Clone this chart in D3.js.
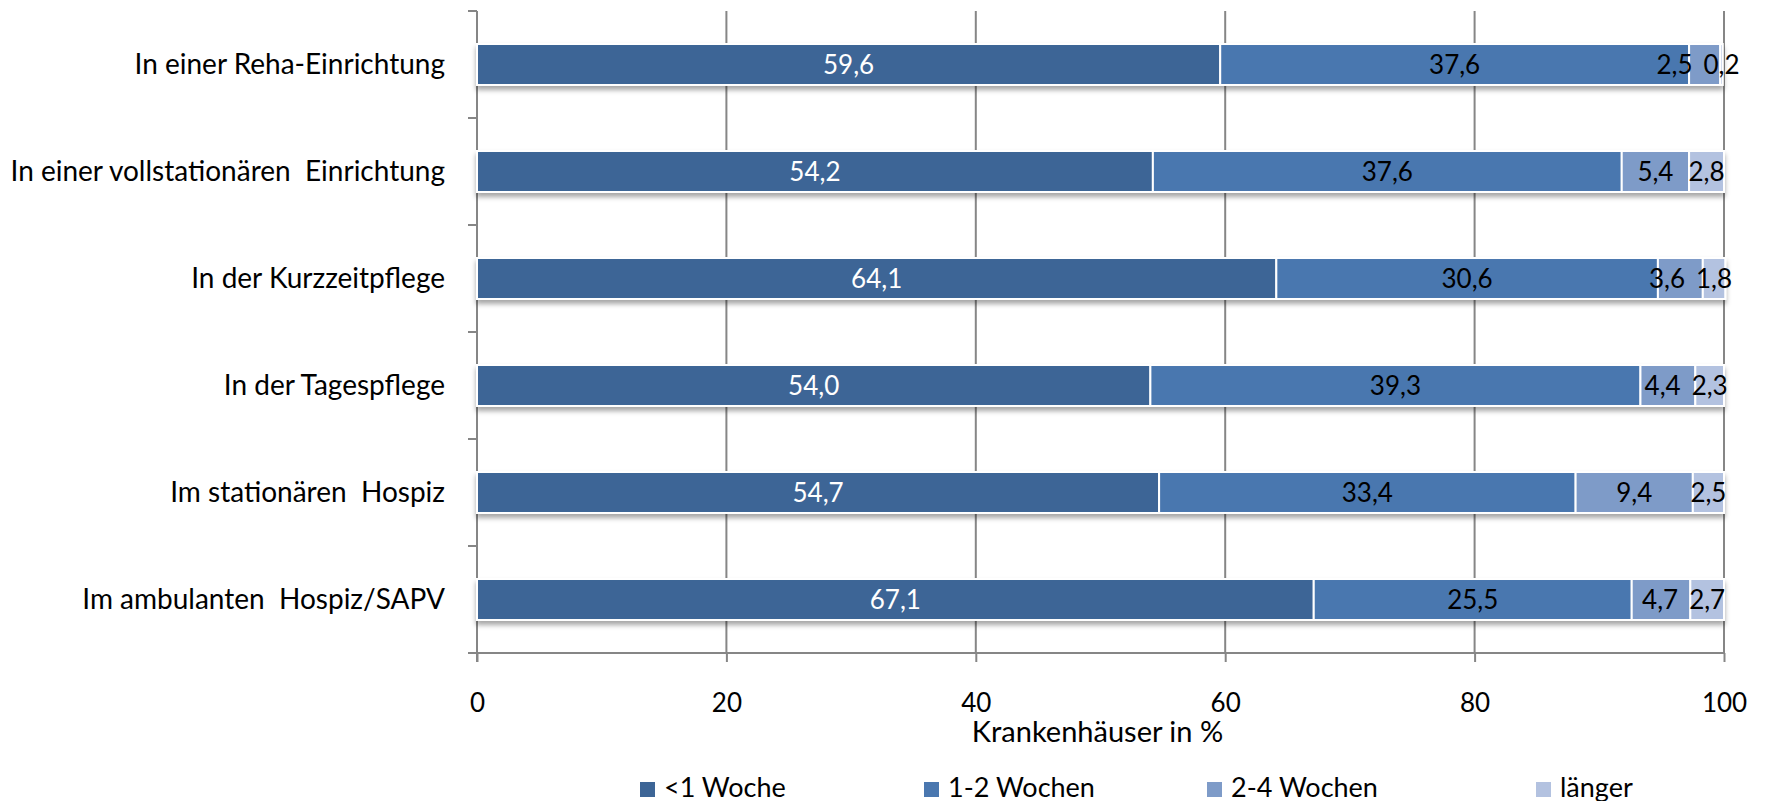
<!DOCTYPE html>
<html>
<head>
<meta charset="utf-8">
<script src="https://cdn.jsdelivr.net/npm/d3@7/dist/d3.min.js"></script>
<style>
  body { margin: 0; background: #fff; }
  text { font-family: Lato, "Open Sans", sans-serif; }
</style>
</head>
<body>
<div id="chart"></div>
<script>
'use strict';

// categories top to bottom
var categories = [
    'In einer Reha-Einrichtung',
    'In einer vollstationären  Einrichtung',
    'In der Kurzzeitpflege',
    'In der Tagespflege',
    'Im stationären  Hospiz',
    'Im ambulanten  Hospiz/SAPV'
];

var seriesNames = ['<1 Woche', '1-2 Wochen', '2-4 Wochen', 'länger'];

var unterEinerWoche = [59.6, 54.2, 64.1, 54.0, 54.7, 67.1];
var einsBisZwei     = [37.6, 37.6, 30.6, 39.3, 33.4, 25.5];
var zweiBisVier     = [2.5, 5.4, 3.6, 4.4, 9.4, 4.7];
var laenger         = [0.2, 2.8, 1.8, 2.3, 2.5, 2.7];

var xTicks = [0, 20, 40, 60, 80, 100];

var colors = ['#3d6596', '#4a77af', '#7e9bc8', '#b3c2e0'];
var labelColors = ['#ffffff', '#000000', '#000000', '#000000'];

var settings = {
    width: 1767,
    height: 801,
    left: 477,
    right: 1724,
    top: 11,
    bottom: 653
};

var series = [unterEinerWoche, einsBisZwei, zweiBisVier, laenger];

var svg = d3.select('#chart').append('svg')
    .attr('width', settings.width)
    .attr('height', settings.height);

var defs = svg.append('defs');
var shadow = defs.append('filter')
    .attr('id', 'shadow')
    .attr('x', '-5%').attr('y', '-20%')
    .attr('width', '110%').attr('height', '160%');
shadow.append('feDropShadow')
    .attr('dx', 0).attr('dy', 4)
    .attr('stdDeviation', 2.5)
    .attr('flood-color', '#000')
    .attr('flood-opacity', 0.35);

var x = d3.scaleLinear()
    .domain([0, 100])
    .range([settings.left, settings.right]);

var y = d3.scaleBand()
    .domain(categories)
    .range([settings.top, settings.bottom])
    .paddingInner(0.617)
    .paddingOuter(0.3085);

// gridlines
svg.append('g').attr('class', 'grid')
    .selectAll('line')
    .data(xTicks.slice(1))
    .enter()
    .append('line')
    .attr('x1', function(d){ return x(d); })
    .attr('x2', function(d){ return x(d); })
    .attr('y1', settings.top)
    .attr('y2', settings.bottom)
    .attr('stroke', '#868686')
    .attr('stroke-width', 2);

// x axis
var xAxis = svg.append('g')
    .attr('transform', 'translate(0,' + settings.bottom + ')')
    .call(d3.axisBottom(x).tickValues(xTicks).tickSize(9).tickPadding(32).tickSizeOuter(0)
        .tickFormat(d3.format('d')));
xAxis.select('.domain').remove();
xAxis.append('line')
    .attr('x1', settings.left - 9)
    .attr('x2', settings.right)
    .attr('stroke', '#868686')
    .attr('stroke-width', 2);
xAxis.selectAll('.tick line').attr('stroke', '#868686').attr('stroke-width', 2);
xAxis.selectAll('.tick text')
    .attr('fill', '#000')
    .style('font-size', '26px')
    .style('font-family', 'Lato, sans-serif');

// y axis with ticks between categories
var boundaries = d3.range(categories.length + 1).map(function(i){
    return settings.top + i * y.step();
});
var yAxis = svg.append('g');
yAxis.append('line')
    .attr('x1', settings.left).attr('x2', settings.left)
    .attr('y1', settings.top).attr('y2', settings.bottom + 9)
    .attr('stroke', '#868686')
    .attr('stroke-width', 2);
yAxis.selectAll('.ytick')
    .data(boundaries)
    .enter()
    .append('line')
    .attr('class', 'ytick')
    .attr('x1', settings.left - 9).attr('x2', settings.left)
    .attr('y1', function(d){ return d; })
    .attr('y2', function(d){ return d; })
    .attr('stroke', '#868686')
    .attr('stroke-width', 2);
yAxis.selectAll('.ylabel')
    .data(categories)
    .enter()
    .append('text')
    .attr('class', 'ylabel')
    .attr('x', 445)
    .attr('y', function(d){ return y(d) + y.bandwidth() / 2; })
    .attr('dy', '0.35em')
    .attr('text-anchor', 'end')
    .style('white-space', 'pre')
    .style('font-size', '28px')
    .text(function(d){ return d; });

// stacked segments
var rows = categories.map(function(c, i){
    var start = 0;
    return series.map(function(s, k){
        var seg = {cat: c, k: k, x0: start, x1: start + s[i], value: s[i]};
        start += s[i];
        return seg;
    });
});

var barGroups = svg.selectAll('.bar')
    .data(rows)
    .enter()
    .append('g')
    .attr('class', 'bar');

barGroups.append('g')
    .attr('filter', 'url(#shadow)')
    .selectAll('rect')
    .data(function(d){ return d; })
    .enter()
    .append('rect')
    .attr('x', function(d){ return x(d.x0); })
    .attr('width', function(d){ return x(d.x1) - x(d.x0); })
    .attr('y', function(d){ return y(d.cat); })
    .attr('height', y.bandwidth())
    .attr('fill', function(d){ return colors[d.k]; })
    .attr('stroke', '#ffffff')
    .attr('stroke-width', 2);

var fmt = function(v){ return d3.format('.1f')(v).replace('.', ','); };

barGroups.selectAll('.vlabel')
    .data(function(d){ return d; })
    .enter()
    .append('text')
    .attr('class', 'vlabel')
    .attr('x', function(d){ return x((d.x0 + d.x1) / 2); })
    .attr('y', function(d){ return y(d.cat) + y.bandwidth() / 2; })
    .attr('dy', '0.36em')
    .attr('text-anchor', 'middle')
    .attr('fill', function(d){ return labelColors[d.k]; })
    .style('font-size', '26px')
    .text(function(d){ return fmt(d.value); });

// push labels left when they run into the next one
barGroups.each(function(){
    var nodes = d3.select(this).selectAll('.vlabel').nodes();
    for (var i = nodes.length - 2; i >= 0; i--) {
        var a = nodes[i].getBBox(), b = nodes[i + 1].getBBox();
        var over = a.x + a.width + 11 - b.x;
        if (over > 0) {
            nodes[i].setAttribute('x', +nodes[i].getAttribute('x') - over);
        }
    }
});

// axis title
svg.append('text')
    .attr('x', (settings.left + settings.right) / 2 - 3)
    .attr('y', 742)
    .attr('text-anchor', 'middle')
    .style('font-size', '29px')
    .text('Krankenhäuser in %');

// legend
var legendX = [640, 924, 1207, 1536];
var legend = svg.selectAll('.legend')
    .data(seriesNames)
    .enter()
    .append('g')
    .attr('class', 'legend')
    .attr('transform', function(d, i){ return 'translate(' + legendX[i] + ',797)'; });
legend.append('rect')
    .attr('x', 0).attr('y', -15)
    .attr('width', 15).attr('height', 15)
    .attr('fill', function(d, i){ return colors[i]; });
legend.append('text')
    .attr('x', 24)
    .style('font-size', '27px')
    .text(function(d){ return d; });
</script>
</body>
</html>
